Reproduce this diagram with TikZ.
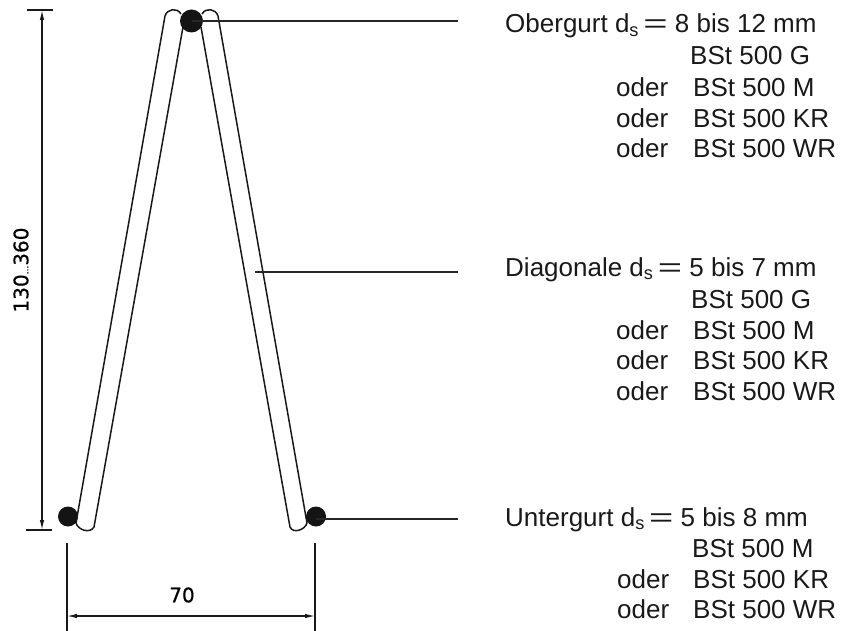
\documentclass[tikz,border=0pt]{standalone}
\usepackage{fontspec}
\setmainfont{Liberation Sans}
\newfontfamily\dimfont[FakeBold=0.6]{DejaVu Sans}
\usetikzlibrary{arrows.meta}
\newcommand{\dsub}{d\textsubscript{s}\,\scalebox{1.6}[1]{=}}
\tikzset{
  x=1pt,y=-1pt,
  lab/.style={anchor=base west,inner sep=0pt,font=\fontsize{26}{26}\selectfont,text=black!90},
  bar/.style={line width=1.5pt,black!90},
  leader/.style={line width=1.3pt,black!85},
  dimline/.style={line width=1.2pt,black!90},
  dimarrow/.style={dimline,{Latex[length=10pt,width=4.5pt]}-{Latex[length=10pt,width=4.5pt]}},
  dot/.style={circle,fill=black!92,draw=none,inner sep=0pt},
  dimtxt/.style={inner sep=0pt,font=\dimfont\fontsize{20}{20}\selectfont}
}
\begin{document}
\begin{tikzpicture}
\useasboundingbox (0,0) rectangle (843,631);
% bars
\draw[bar] (165,16) .. controls (167,9) and (177,7) .. (181,14);
\draw[bar] (165,16) -- (76,523) .. controls (78,530) and (90,534) .. (94,527) -- (183,27);
\draw[bar] (218,16) .. controls (216,9) and (206,7) .. (202,14);
\draw[bar] (218,16) -- (307,523) .. controls (305,530) and (293,534) .. (290,527) -- (201,27);
% rebars
\node[dot,minimum size=23pt] (top) at (191.5,21) {};
\node[dot,minimum size=20pt] (bl) at (68,516.5) {};
\node[dot,minimum size=20pt] (br) at (316,516.5) {};
% leaders
\coordinate (diag) at (255,272);
\coordinate (lt) at (458,21);
\coordinate (ld) at (458,272);
\coordinate (lb) at (458,519);
\draw[leader] (top.center) -- (lt);
\draw[leader] (diag) -- (ld);
\draw[leader] (br.center |- lb) -- (lb);
% height dimension
\coordinate (ht1) at (27,10); \coordinate (ht2) at (53,10);
\coordinate (hb1) at (26,530); \coordinate (hb2) at (52,530);
\coordinate (ha) at (42,10); \coordinate (hb) at (42,530);
\draw[dimline] (ht1) -- (ht2);
\draw[dimline] (hb1) -- (hb2);
\draw[dimarrow] (ha) -- (hb);
\node[dimtxt,rotate=90] (hval) at (21,270) {130{\fontsize{9}{9}\selectfont...}360};
% width dimension
\coordinate (wl1) at (67,543); \coordinate (wl2) at (67,631);
\coordinate (wr1) at (315,543); \coordinate (wr2) at (315,631);
\coordinate (wa) at (67,616); \coordinate (wb) at (315,616);
\draw[dimline] (wl1) -- (wl2);
\draw[dimline] (wr1) -- (wr2);
\draw[dimarrow] (wa) -- (wb);
\node[dimtxt] (wval) at (182,595) {70};
% labels
\node[lab] (o0) at (505,33) {Obergurt \dsub{} 8 bis 12 mm};
\node[lab] (o1) at (690,65) {BSt 500 G};
\node[lab] (o2o) at (616,97) {oder};
\node[lab] (o2) at (693,97) {BSt 500 M};
\node[lab] (o3o) at (616,128) {oder};
\node[lab] (o3) at (693,128) {BSt 500 KR};
\node[lab] (o4o) at (616,158) {oder};
\node[lab] (o4) at (693,158) {BSt 500 WR};
\node[lab] (d0) at (505,276) {Diagonale \dsub{} 5 bis 7 mm};
\node[lab] (d1) at (691,308) {BSt 500 G};
\node[lab] (d2o) at (616,339) {oder};
\node[lab] (d2) at (693,339) {BSt 500 M};
\node[lab] (d3o) at (616,369) {oder};
\node[lab] (d3) at (693,369) {BSt 500 KR};
\node[lab] (d4o) at (616,400) {oder};
\node[lab] (d4) at (693,400) {BSt 500 WR};
\node[lab] (u0) at (505,526) {Untergurt \dsub{} 5 bis 8 mm};
\node[lab] (u1) at (692,557) {BSt 500 M};
\node[lab] (u2o) at (617,588) {oder};
\node[lab] (u2) at (693,588) {BSt 500 KR};
\node[lab] (u3o) at (617,618) {oder};
\node[lab] (u3) at (693,618) {BSt 500 WR};
\end{tikzpicture}
\end{document}
